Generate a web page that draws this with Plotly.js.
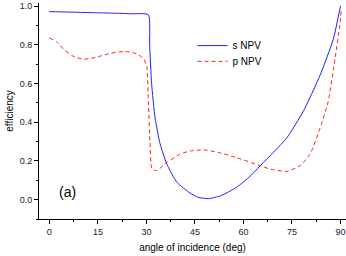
<!DOCTYPE html>
<html>
<head>
<meta charset="utf-8">
<script src="https://cdn.plot.ly/plotly-3.0.1.min.js"></script>
<style>html,body{margin:0;padding:0;background:#fff;}#chart{width:346px;height:256px;}</style>
</head>
<body>
<div id="chart"></div>
<script>
// angle of incidence (deg) and efficiency for s-polarised NPV
const sAngle = [0, 5, 10, 15, 20, 25, 30.6, 31.0, 31.6, 32.7, 34.2, 36.3, 39.4, 43.5, 46, 49.2, 53, 57.9, 62, 65.7, 68.2, 73.4, 78.5, 83.7, 87.8, 90];
const sEff   = [0.971, 0.969, 0.967, 0.965, 0.963, 0.960, 0.955, 0.80, 0.60, 0.42, 0.29, 0.184, 0.09, 0.034, 0.012, 0.005, 0.02, 0.064, 0.12, 0.184, 0.226, 0.319, 0.456, 0.643, 0.83, 1.0];
// angle of incidence (deg) and efficiency for p-polarised NPV
const pAngle = [0, 2.3, 4.3, 6.9, 8.5, 10.5, 13, 15.7, 19, 22.9, 25, 27, 29.1, 30.1, 30.6, 31.1, 31.7, 33.2, 36.3, 40.4, 43.5, 47.6, 52, 57.9, 65.7, 68.2, 73.4, 77.5, 80.6, 83.7, 86.2, 88.3, 89.9, 90.2];
const pEff   = [0.835, 0.815, 0.779, 0.745, 0.733, 0.725, 0.73, 0.741, 0.756, 0.765, 0.762, 0.753, 0.728, 0.69, 0.51, 0.30, 0.158, 0.15, 0.192, 0.235, 0.251, 0.257, 0.245, 0.217, 0.172, 0.158, 0.146, 0.175, 0.235, 0.37, 0.507, 0.728, 0.915, 0.98];
const seriesNames = ["s NPV", "p NPV"];
const xTickVals = [0, 15, 30, 45, 60, 75, 90];
const yTickVals = [0.0, 0.2, 0.4, 0.6, 0.8, 1.0];
const yTickText = ["0.0", "0.2", "0.4", "0.6", "0.8", "1.0"];
const panelLabel = "(a)";

const font = "Liberation Sans, Arial, sans-serif";
const traces = [
  {x: sAngle, y: sEff, name: seriesNames[0], mode: "lines", type: "scatter", legend: "legend",
   line: {color: "#1f1fff", width: 1, shape: "spline", smoothing: 0.5}},
  {x: pAngle, y: pEff, name: seriesNames[1], mode: "lines", type: "scatter", legend: "legend2",
   line: {color: "#ff2020", width: 1, dash: "4px,3px", shape: "spline", smoothing: 0.5}}
];
const axisCommon = {
  showline: true, linecolor: "#000", linewidth: 1, mirror: false,
  showgrid: false, zeroline: false, ticks: "outside", ticklen: 4, tickwidth: 1, tickcolor: "#000",
  ticklabeloverflow: "allow",
  tickfont: {family: font, size: 9, color: "#222"}
};
const legendCommon = {xanchor: "left", yanchor: "top", bgcolor: "rgba(0,0,0,0)",
                      font: {family: font, size: 10, color: "#000"}, borderwidth: 0};
const layout = {
  width: 346, height: 256,
  margin: {l: 39, r: 0, t: 3, b: 37},
  paper_bgcolor: "#fff", plot_bgcolor: "#fff",
  showlegend: true,
  legend: Object.assign({}, legendCommon, {x: 0.5, y: 0.87}),
  legend2: Object.assign({}, legendCommon, {x: 0.5, y: 0.797}),
  xaxis: Object.assign({}, axisCommon, {
    range: [-3.2, 91.7], tickvals: xTickVals,
    minor: {dtick: 7.5, tick0: 0, ticks: "outside", ticklen: 2, tickcolor: "#000"},
    title: {text: "angle of incidence (deg)", font: {family: font, size: 10, color: "#000"}, standoff: 8}
  }),
  yaxis: Object.assign({}, axisCommon, {
    range: [-0.1, 1.0155], tickvals: yTickVals, ticktext: yTickText,
    minor: {dtick: 0.1, tick0: 0, ticks: "outside", ticklen: 2, tickcolor: "#000"},
    title: {text: "efficiency", font: {family: font, size: 10, color: "#000"}, standoff: 4}
  }),
  annotations: [{x: 5.5, y: 0.04, xref: "x", yref: "y", text: panelLabel, showarrow: false,
                 font: {family: font, size: 14, color: "#000"}}]
};
Plotly.newPlot("chart", traces, layout, {staticPlot: true, displayModeBar: false});
</script>
</body>
</html>
